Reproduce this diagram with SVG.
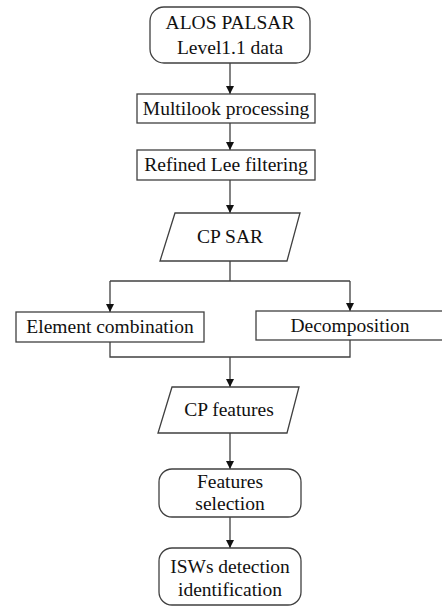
<svg xmlns="http://www.w3.org/2000/svg" width="442" height="608" viewBox="0 0 442 608">
  <style>
    .box { fill: #ffffff; stroke: #404040; stroke-width: 1.3; }
    .lbl { font-family: "Liberation Serif", "Times New Roman", serif; font-size: 19.5px; fill: #111111; text-anchor: middle; }
    .wire { fill: none; stroke: #404040; stroke-width: 1.3; }
  </style>
  <defs>
    <marker id="arrow" viewBox="0 0 10 10" refX="10" refY="5" markerWidth="8" markerHeight="8" markerUnits="userSpaceOnUse" orient="auto">
      <path d="M0,0 L10,5 L0,10 Z" fill="#111111"/>
    </marker>
  </defs>
  <rect width="442" height="608" fill="#ffffff"/>

  <!-- connectors -->
  <g id="connectors">
    <path class="wire" d="M230,63 V94" marker-end="url(#arrow)"/>
    <path class="wire" d="M230,123 V150" marker-end="url(#arrow)"/>
    <path class="wire" d="M230,180 V213" marker-end="url(#arrow)"/>
    <path class="wire" d="M230,261 V281"/>
    <path class="wire" d="M110,281 H350"/>
    <path class="wire" d="M110,281 V312" marker-end="url(#arrow)"/>
    <path class="wire" d="M350,281 V311" marker-end="url(#arrow)"/>
    <path class="wire" d="M110,342 V357 H350 V340"/>
    <path class="wire" d="M230,357 V387" marker-end="url(#arrow)"/>
    <path class="wire" d="M230,433 V469" marker-end="url(#arrow)"/>
    <path class="wire" d="M230,517 V548" marker-end="url(#arrow)"/>
  </g>

  <!-- nodes -->
  <g id="alos-data">
    <rect class="box" x="150" y="7" width="160" height="56" rx="14"/>
    <text class="lbl" x="230" y="29">ALOS PALSAR</text>
    <text class="lbl" x="230" y="54">Level1.1 data</text>
  </g>
  <g id="multilook">
    <rect class="box" x="137" y="94" width="178" height="29"/>
    <text class="lbl" x="226" y="115">Multilook processing</text>
  </g>
  <g id="lee-filter">
    <rect class="box" x="137" y="150" width="178" height="30"/>
    <text class="lbl" x="226" y="171">Refined Lee filtering</text>
  </g>
  <g id="cp-sar">
    <polygon class="box" points="175,213 300,213 287,261 160,261"/>
    <text class="lbl" x="230" y="243">CP SAR</text>
  </g>
  <g id="element-combination">
    <rect class="box" x="16" y="312" width="188" height="30"/>
    <text class="lbl" x="110" y="333">Element combination</text>
  </g>
  <g id="decomposition">
    <rect class="box" x="256" y="311" width="190" height="29"/>
    <text class="lbl" x="350" y="332">Decomposition</text>
  </g>
  <g id="cp-features">
    <polygon class="box" points="172,387 299,387 287,433 158,433"/>
    <text class="lbl" x="229" y="416">CP features</text>
  </g>
  <g id="features-selection">
    <rect class="box" x="159" y="469" width="142" height="48" rx="13"/>
    <text class="lbl" x="230" y="488">Features</text>
    <text class="lbl" x="230" y="510">selection</text>
  </g>
  <g id="isw-detection">
    <rect class="box" x="159" y="548" width="142" height="57" rx="13"/>
    <text class="lbl" x="230" y="573">ISWs detection</text>
    <text class="lbl" x="230" y="596">identification</text>
  </g>
</svg>
